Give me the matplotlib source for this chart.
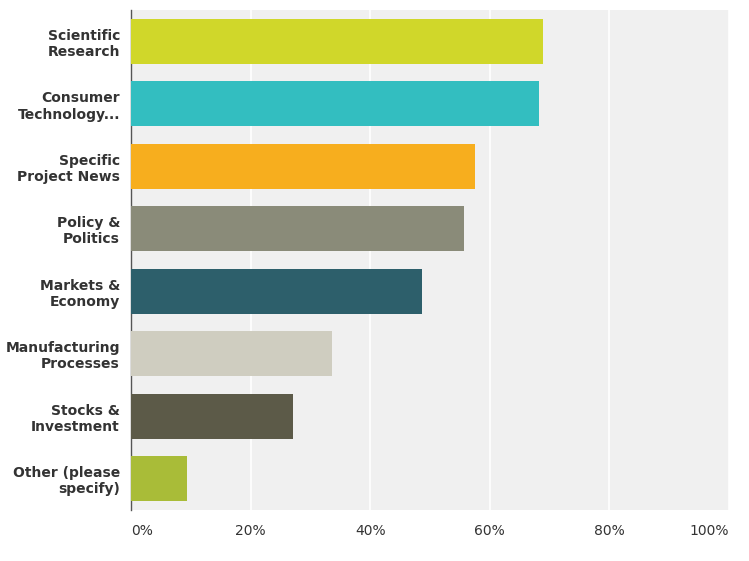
import matplotlib
matplotlib.use("Agg")
import matplotlib.pyplot as plt

categories = ["Scientific\nResearch", "Consumer\nTechnology...", "Specific\nProject News",
              "Policy &\nPolitics", "Markets &\nEconomy", "Manufacturing\nProcesses",
              "Stocks &\nInvestment", "Other (please\nspecify)"]
values = [68.9, 68.2, 57.5, 55.7, 48.7, 33.6, 27.1, 9.4]
colors = ["#D0D72A", "#33BEC0", "#F7AE1E", "#8A8B79", "#2D5F6B", "#CFCDC0", "#5C5A48", "#A9BC38"]
ticks = [0, 20, 40, 60, 80, 100]
tick_labels = ["0%", "20%", "40%", "60%", "80%", "100%"]

fig = plt.figure(figsize=(7.49, 5.61), dpi=100)
ax = fig.add_axes([0.175, 0.091, 0.798, 0.891])
ax.set_facecolor("#F0F0F0")
y = list(range(len(categories)))
ax.barh(y, values, height=0.72, color=colors, zorder=3)
ax.set_ylim(len(categories) - 0.5, -0.5)
ax.set_xlim(0, 100)
ax.set_xticks(ticks)
ax.set_xticklabels(tick_labels, fontsize=10, color="#333333")
labs = ax.get_xticklabels()
labs[0].set_ha("left")
labs[-1].set_ha("right")
ax.xaxis.grid(True, color="white", linewidth=1.2, zorder=1)
ax.set_axisbelow(True)
ax.set_yticks(y)
ax.set_yticklabels(categories, fontsize=10, fontweight="bold", color="#333333", ha="right")
ax.tick_params(axis="both", length=0)
ax.tick_params(axis="x", pad=10)
ax.tick_params(axis="y", pad=8)
for s in ["top", "right", "bottom"]:
    ax.spines[s].set_visible(False)
ax.spines["left"].set_color("#555555")
ax.spines["left"].set_linewidth(1)
fig.savefig("out.png", dpi=100, facecolor="white")
